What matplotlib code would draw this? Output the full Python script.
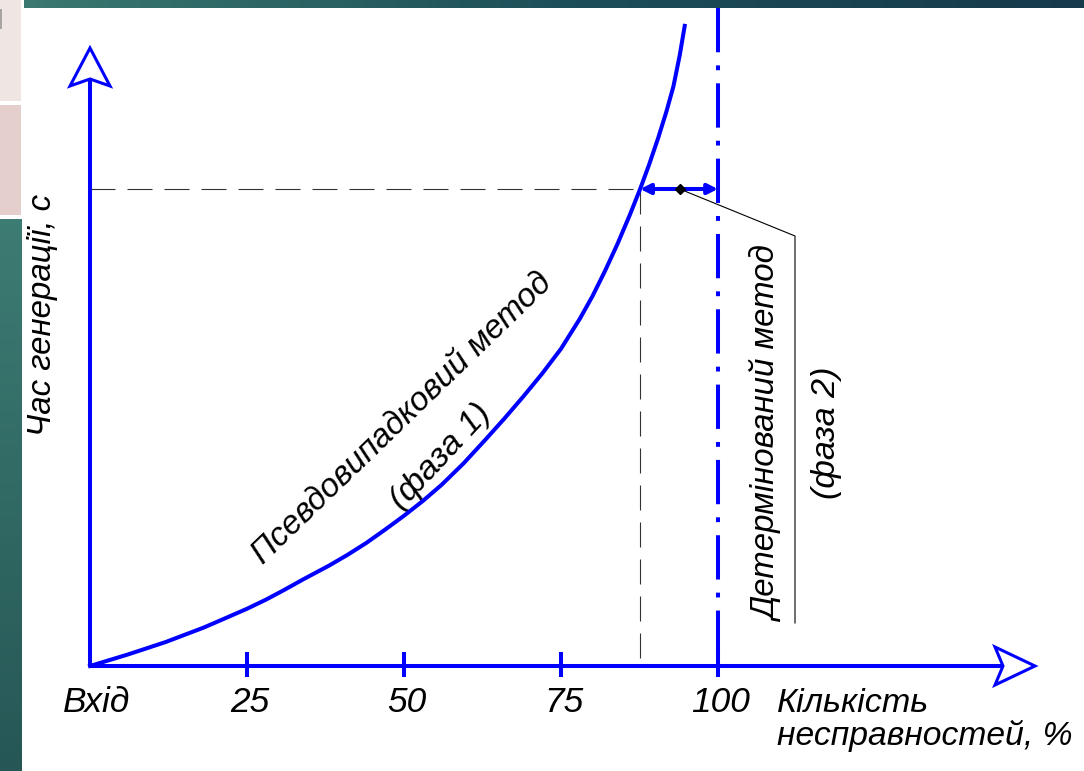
import matplotlib
matplotlib.use('Agg')
import matplotlib.pyplot as plt
import numpy as np
from matplotlib import font_manager
from matplotlib.patches import Polygon, Rectangle

# values (x: % of faults, y: generation time, arbitrary units)
fault_pct = [0, 3, 6, 9, 12, 15, 18, 21, 25, 28, 31, 34, 38, 41, 44, 47, 50, 53, 56, 59.5, 63,
             66, 69, 72, 75, 78, 80, 82, 84, 86, 87.6, 89, 90.5, 91.8, 92.9, 93.9, 94.7]
gen_time = [0, 0.12, 0.24, 0.37, 0.50, 0.65, 0.80, 0.97, 1.20, 1.39, 1.60, 1.82, 2.10, 2.33,
            2.58, 2.86, 3.15, 3.46, 3.80, 4.25, 4.75, 5.19, 5.65, 6.13, 6.65, 7.28, 7.75,
            8.28, 8.85, 9.47, 10.0, 10.5, 11.08, 11.63, 12.15, 12.8, 13.42]
tick_pos = [25, 50, 75, 100]
tick_labels = ['25', '50', '75', '100']
start_label = 'Вхід'
switch_pct = 87.6      # where phase 1 stops
switch_time = 10.0
full_pct = 100
leader_pct = 93.9

BLUE = '#0000ff'

names = {f.name for f in font_manager.fontManager.ttflist}
if 'Liberation Sans Narrow' in names:
    fam = ['Liberation Sans Narrow', 'DejaVu Sans']
    k = 1.0
else:
    fam = ['Liberation Sans', 'DejaVu Sans']
    k = 0.82

W, H = 1084, 771
fig = plt.figure(figsize=(W / 100, H / 100), dpi=100)
ax = fig.add_axes([0, 0, 1, 1])

# pixel <-> data mapping of the drawing
X0, SX, Y0, SY = 90, 6.28, 666, 47.7
ax.set_xlim(-X0 / SX, (W - X0) / SX)
ax.set_ylim(-(H - Y0) / SY, Y0 / SY)
ax.axis('off')


def px(x, y):
    return (x - X0) / SX, (Y0 - y) / SY


# axes with open arrow heads
x_tip, _ = px(1035, 0)
x_notch, _ = px(1003, 0)
x_barb, _ = px(995, 0)
_, y_tip = px(0, 48)
_, y_notch = px(0, 79)
_, y_barb = px(0, 86)
ax.plot([0, x_notch], [0, 0], color=BLUE, lw=2.9, solid_capstyle='butt', zorder=3)
ax.plot([0, 0], [0, y_notch], color=BLUE, lw=2.9, solid_capstyle='butt', zorder=3)
ax.add_patch(Polygon([(x_tip, 0), (x_barb, 19 / SY), (x_notch, 0), (x_barb, -19 / SY)],
                     closed=True, facecolor='white', edgecolor=BLUE, lw=2.2, joinstyle='miter', zorder=3))
ax.add_patch(Polygon([(0, y_tip), (-20 / SX, y_barb), (0, y_notch), (20 / SX, y_barb)],
                     closed=True, facecolor='white', edgecolor=BLUE, lw=2.2, joinstyle='miter', zorder=3))

# ticks and labels
for t, lab in zip(tick_pos, tick_labels):
    ax.plot([t, t], [-11 / SY, 14 / SY], color=BLUE, lw=2.9, solid_capstyle='butt', zorder=3)
    ax.text(t + 0.4, -46 / SY, lab, ha='center', va='baseline', style='italic',
            fontsize=31 * k, family=fam)
ax.text(1.1, -46 / SY, start_label, ha='center', va='baseline', style='italic',
        fontsize=31 * k, family=fam)

# guide lines
ax.plot([0, switch_pct], [switch_time, switch_time], color='#333333', lw=0.8,
        dashes=(22.5, 10.8), zorder=2)
ax.plot([switch_pct, switch_pct], [switch_time, 0], color='#333333', lw=0.8,
        dashes=(22.5, 10.8), zorder=2)
ax.plot([full_pct, full_pct], [px(0, 8)[1], 0], color=BLUE, lw=2.9,
        dashes=(11, 3.25, 1.2, 3.25), zorder=3)

# curve of phase 1
ax.plot(fault_pct, gen_time, color=BLUE, lw=2.9, solid_joinstyle='round', zorder=4)

# phase 2 span
ax.annotate('', xy=(full_pct, switch_time), xytext=(switch_pct, switch_time),
            arrowprops=dict(arrowstyle='<|-|>', color=BLUE, lw=2.9, mutation_scale=15,
                            shrinkA=0, shrinkB=0), zorder=4)
lx, ly1 = px(795, 236)
_, ly2 = px(795, 623)
ax.plot([leader_pct, lx, lx], [switch_time, ly1, ly2], color='black', lw=0.8, zorder=4)
ax.plot(leader_pct, switch_time, marker='D', ms=5, color='black', zorder=5)

# texts
ax.text(*px(43, 315), 'Час генерації, с', rotation=90, ha='center', va='center',
        style='italic', fontsize=29 * k, family=fam)
ax.text(*px(777, 712), 'Кількість', ha='left', va='baseline', style='italic',
        fontsize=30 * k, family=fam)
ax.text(*px(777, 745), 'несправностей, %', ha='left', va='baseline', style='italic',
        fontsize=29.5 * k, family=fam)
ax.text(*px(768, 435), 'Детермінований метод', rotation=90, ha='center', va='center',
        style='italic', fontsize=29 * k, family=fam)
ax.text(*px(827, 433), '(фаза 2)', rotation=90, ha='center', va='center',
        style='italic', fontsize=30 * k, family=fam)
ax.text(*px(402, 419), 'Псевдовипадковий метод', rotation=44, ha='center', va='center',
        style='italic', fontsize=29 * k, family=fam)
ax.text(*px(441, 457), '(фаза 1)', rotation=47, ha='center', va='center',
        style='italic', fontsize=30 * k, family=fam)

# slide decoration: left strip and top bar
strip = fig.add_axes([0, 0, 22 / W, (H - 219) / H])
strip.imshow(np.linspace(0, 1, 100).reshape(-1, 1), aspect='auto',
             cmap=matplotlib.colors.LinearSegmentedColormap.from_list('s', ['#3d7c73', '#265756']))
strip.axis('off')
bar = fig.add_axes([24 / W, (H - 8) / H, (W - 24) / W, 8 / H])
bar.imshow(np.linspace(0, 1, 100).reshape(1, -1), aspect='auto',
           cmap=matplotlib.colors.LinearSegmentedColormap.from_list('b', ['#3a7870', '#1d4f58', '#163a4b']))
bar.axis('off')
fig.add_artist(Rectangle((0, (H - 101) / H), 21 / W, 101 / H, transform=fig.transFigure,
                         facecolor='#efe5e3', edgecolor='none'))
fig.add_artist(Rectangle((0, (H - 215) / H), 21 / W, 110 / H, transform=fig.transFigure,
                         facecolor='#e5cfcd', edgecolor='none'))
fig.add_artist(Rectangle((0, (H - 29) / H), 2 / W, 20 / H, transform=fig.transFigure,
                         facecolor='#a8a4a2', edgecolor='none'))

fig.savefig('out.png', dpi=100)
